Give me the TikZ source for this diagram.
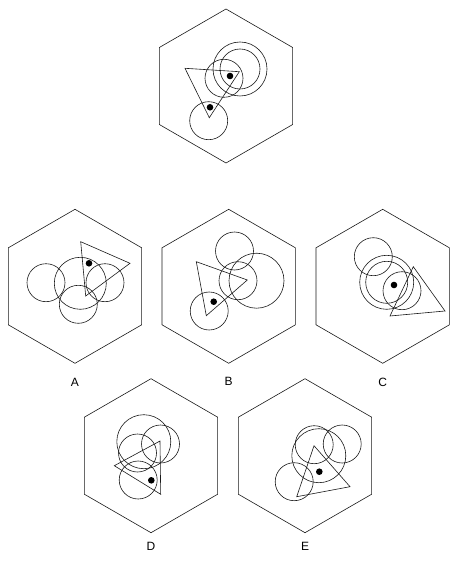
\documentclass[tikz,border=0pt]{standalone}
\usepackage{fontspec}
\setmainfont{Liberation Sans}
\usepackage{tikz}

\tikzset{
  fig/.style={line width=0.6pt, draw=black!90},
  dot/.style={fill=black},
  lab/.style={font=\fontsize{12}{14}\selectfont}
}
\newcommand{\hexa}[2]{\draw[fig] (#1,#2) +(90:77) -- +(150:77) -- +(210:77) -- +(270:77) -- +(330:77) -- +(30:77) -- cycle;}

\begin{document}
\begin{tikzpicture}[x=1pt,y=-1pt]
			\useasboundingbox (0,0) rectangle (470,569);
			% question
			\hexa{226}{86}
			\draw[fig] (240,69) circle (27pt); \draw[fig] (240,69) circle (20pt);
			\draw[fig] (224,78.3) circle (19pt); \draw[fig] (208.7,120.7) circle (19pt);
			\draw[fig] (185,68.3) -- (239.3,71.7) -- (209.3,117.7) -- cycle;
			\fill[dot] (230,76) circle (3.3pt); \fill[dot] (210,107.3) circle (3.3pt);
			% A
			\hexa{75}{286.3}
			\draw[fig] (46,282.7) circle (19pt); \draw[fig] (80.3,283.3) circle (26pt);
			\draw[fig] (105,282.7) circle (19pt); \draw[fig] (78.3,304.3) circle (19pt);
			\draw[fig] (80.7,241.7) -- (130,263.3) -- (85.7,296) -- cycle;
			\fill[dot] (89,263.3) circle (3.3pt);
			\node[lab] (labA) at (75,382.7) {A};
			% B
			\hexa{228.7}{286.3}
			\draw[fig] (234.5,251) circle (19pt); \draw[fig] (238,280.7) circle (19pt);
			\draw[fig] (256.5,280.7) circle (27.5pt); \draw[fig] (209.2,311) circle (19pt);
			\draw[fig] (196.3,261.7) -- (247.3,280) -- (206.3,315.7) -- cycle;
			\fill[dot] (213.7,301.7) circle (3.3pt);
			\node[lab] (labB) at (228.7,381.7) {B};
			% C
			\hexa{382.7}{286.3}
			\draw[fig] (373.3,256.7) circle (19pt); \draw[fig] (386.7,282.3) circle (27pt);
			\draw[fig] (386.7,282.3) circle (21pt); \draw[fig] (402,290.7) circle (19pt);
			\draw[fig] (413.3,266.7) -- (445,311) -- (390,316) -- cycle;
			\fill[dot] (394,285) circle (3.3pt);
			\node[lab] (labC) at (382.7,382.7) {C};
			% D
			\hexa{151}{455.7}
			\draw[fig] (143.8,441.7) circle (27pt); \draw[fig] (160.5,444) circle (19pt);
			\draw[fig] (137.5,453) circle (19pt); \draw[fig] (138.2,480) circle (19pt);
			\draw[fig] (160,441) -- (114.3,465.7) -- (160.7,494.3) -- cycle;
			\fill[dot] (151.3,480.3) circle (3.3pt);
			\node[lab] (labD) at (151,546.7) {D};
			% E
			\hexa{305}{455.7}
			\draw[fig] (318.8,455.7) circle (27pt); \draw[fig] (314.2,444.7) circle (19pt);
			\draw[fig] (342.2,444) circle (19pt); \draw[fig] (294.2,481.7) circle (19pt);
			\draw[fig] (314,445.7) -- (350,486.7) -- (296.7,496.7) -- cycle;
			\fill[dot] (319.3,471.7) circle (3.3pt);
			\node[lab] (labE) at (305,546.7) {E};
		\end{tikzpicture}
\end{document}
